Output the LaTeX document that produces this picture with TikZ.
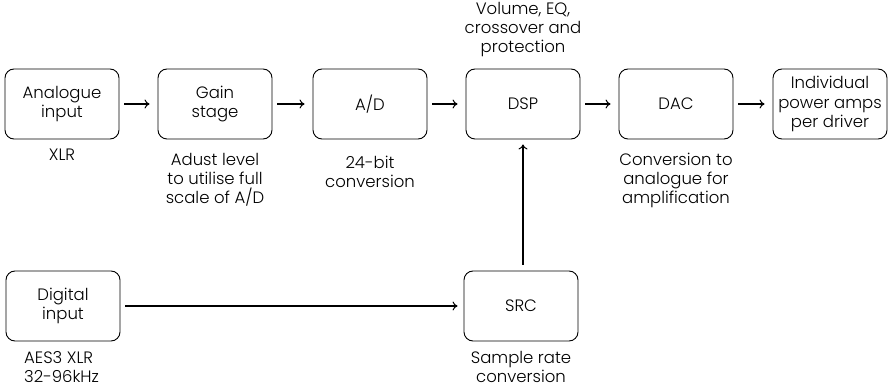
\documentclass[tikz,border=0pt]{standalone}
\usepackage{fontspec}
\IfFontExistsTF{Poppins Light}{\setmainfont{Poppins Light}}{\setmainfont{Poppins}}
\usetikzlibrary{arrows.meta}
\begin{document}
\begin{tikzpicture}[x=1pt,y=-1pt,
  blk/.style={draw, line width=0.9pt, rounded corners=9pt, minimum width=114pt, minimum height=70pt, align=center, inner sep=2pt, font=\fontsize{16.5}{19.5}\selectfont},
  lbl/.style={align=center, inner sep=0pt, font=\fontsize{16.5}{19}\selectfont},
  conn/.style={line width=1.5pt, -{To[length=5pt,width=9pt,line width=1pt]}}]
\useasboundingbox (0,0) rectangle (889,387);
\node[blk] (ana) at (62,104) {Analogue\\input};
\node[blk] (gain) at (215,104) {Gain\\stage};
\node[blk] (ad) at (370,104) {A/D};
\node[blk] (dsp) at (523,104) {DSP};
\node[blk] (dac) at (676,104) {DAC};
\node[blk] (amp) at (830,104) {Individual\\power amps\\per driver};
\node[blk] (dig) at (63,306) {Digital\\input};
\node[blk] (src) at (521,306) {SRC};
\draw[conn, shorten <=5pt, shorten >=8pt] (ana) -- (gain);
\draw[conn, shorten <=5pt, shorten >=8pt] (gain) -- (ad);
\draw[conn, shorten <=5pt, shorten >=8pt] (ad) -- (dsp);
\draw[conn, shorten <=5pt, shorten >=8pt] (dsp) -- (dac);
\draw[conn, shorten <=5pt, shorten >=8pt] (dac) -- (amp);
\draw[conn, shorten <=5pt, shorten >=6pt] (dig) -- (src);
\draw[conn, shorten <=6pt, shorten >=5pt] (src.north -| 523,0) -- (dsp.south -| 523,0);
\node[lbl] (l1) at (62,155) {XLR};
\node[lbl] (l2) at (215,180) {Adust level\\to utilise full\\scale of A/D};
\node[lbl] (l3) at (370,172) {24-bit\\conversion};
\node[lbl] (l4) at (523,30) {Volume, EQ,\\crossover and\\protection};
\node[lbl] (l5) at (676,180) {Conversion to\\analogue for\\amplification};
\node[lbl, align=left, anchor=west] (l6) at (24,367) {AES3 XLR\\32-96kHz};
\node[lbl] (l7) at (521,367) {Sample rate\\conversion};
\end{tikzpicture}
\end{document}
